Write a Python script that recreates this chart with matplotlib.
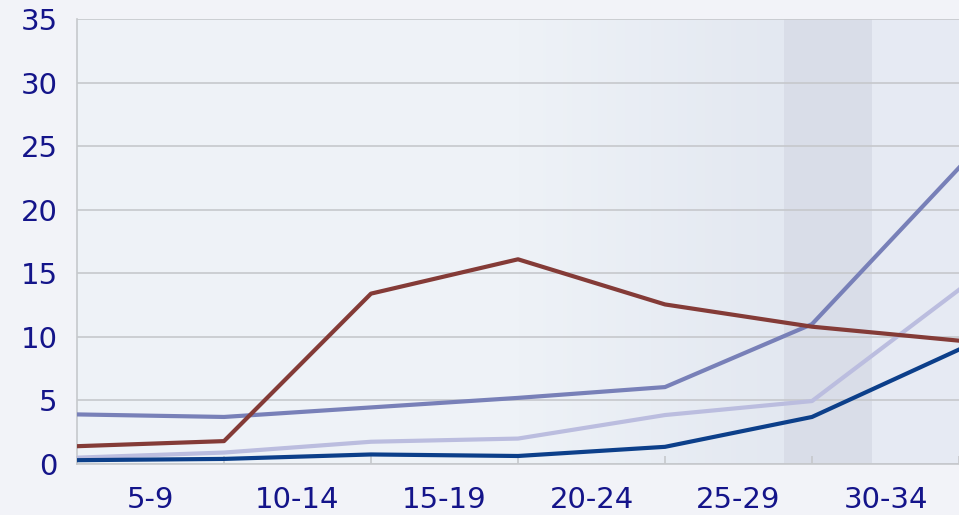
import matplotlib
matplotlib.use('Agg')
import matplotlib.pyplot as plt
import numpy as np

age_groups = ['5-9', '10-14', '15-19', '20-24', '25-29', '30-34']
# one point per group boundary, the last one runs past the crop
red_line = [1.4, 1.8, 13.4, 16.1, 12.55, 10.8, 9.7]
purple_line = [3.9, 3.7, 4.45, 5.2, 6.05, 11.0, 23.3]
lavender_line = [0.5, 0.9, 1.75, 2.0, 3.85, 4.95, 13.7]
navy_line = [0.3, 0.4, 0.75, 0.63, 1.35, 3.7, 9.0]

text_color = '#14148A'
grid_color = '#C6C8CC'

fig = plt.figure(figsize=(9.59, 5.15), dpi=100, facecolor='#F2F3F8')
ax = fig.add_axes([77 / 959, 51 / 515, 1 - 77 / 959, (464 - 19) / 515])
ax.set_facecolor('#EEF2F7')

# background shading, soft gradient towards the right then a darker band
grad = np.linspace(0, 1, 200).reshape(1, -1)
ax.imshow(grad, extent=[3.0, 4.81, 0, 35], aspect='auto', cmap=matplotlib.colors.LinearSegmentedColormap.from_list('bg', ['#EEF2F7', '#E3E8F1']), zorder=0)
ax.axvspan(4.81, 5.41, color='#D9DDE8', zorder=0, lw=0)
ax.axvspan(5.41, 6.2, color='#E6EAF3', zorder=0, lw=0)

x = np.arange(len(red_line))
ax.plot(x, lavender_line, color='#BBBDDF', lw=3.0, zorder=3)
ax.plot(x, navy_line, color='#0C3F8A', lw=3.0, zorder=4)
ax.plot(x, purple_line, color='#7880B8', lw=3.0, zorder=3)
ax.plot(x, red_line, color='#843B37', lw=3.0, zorder=3)

ax.set_xlim(0, (959 - 77) / 148.3)
ax.set_ylim(0, 35)
ax.set_yticks(np.arange(0, 36, 5))
ax.grid(axis='y', color=grid_color, lw=1.2, zorder=1)
ax.set_axisbelow(True)

ax.set_xticks(np.arange(0, 7))
ax.set_xticklabels([])
ax.set_xticks(np.arange(len(age_groups)) + 0.5, minor=True)
ax.set_xticklabels(age_groups, minor=True)
ax.tick_params(axis='x', which='major', direction='in', length=6, color=grid_color, width=1.2)
ax.tick_params(axis='x', which='minor', length=0, pad=16, labelsize=21, labelcolor=text_color)
ax.tick_params(axis='y', length=0, pad=14, labelsize=21, labelcolor=text_color)

for side in ['top', 'right']:
    ax.spines[side].set_visible(False)
for side in ['left', 'bottom']:
    ax.spines[side].set_color(grid_color)
    ax.spines[side].set_linewidth(1.2)

fig.savefig('out.png', dpi=100, facecolor=fig.get_facecolor())
